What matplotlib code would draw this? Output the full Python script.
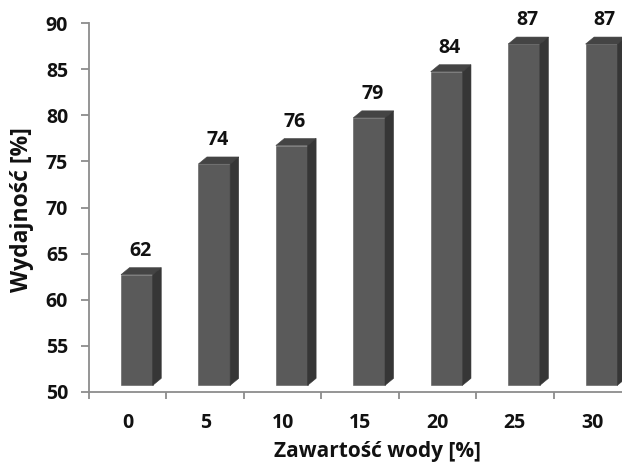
import matplotlib
matplotlib.use("Agg")
import matplotlib.pyplot as plt
from matplotlib.patches import Polygon

plt.rcParams['font.family'] = ['Open Sans', 'DejaVu Sans']

categories = ['0', '5', '10', '15', '20', '25', '30']
values = [62, 74, 76, 79, 84, 87, 87]

y_min, y_max = 50, 90

fig = plt.figure(figsize=(6.22, 4.66), dpi=100)
ax = fig.add_axes([0.1431, 0.1588, 0.8714, 0.7918])
ax.set_xlim(-0.5, len(categories) - 0.5)
ax.set_ylim(y_min, y_max)

# pseudo-3D geometry (data units)
front_off = -0.087   # front face left edge relative to category centre
front_w = 0.41
depth_x = 0.11
depth_y = 0.76
lift = 0.72          # front face raised above the floor

front_col = '#5a5a5a'
top_col = '#444444'
side_col = '#363636'

for i, v in enumerate(values):
    x0 = i + front_off
    x1 = x0 + front_w
    ax.bar(x0, v - y_min, bottom=y_min + lift, width=front_w, align='edge',
           color=front_col, edgecolor=front_col, linewidth=0.4, zorder=3)
    top = Polygon([(x0, v + lift), (x1, v + lift),
                   (x1 + depth_x, v + lift + depth_y), (x0 + depth_x, v + lift + depth_y)],
                  closed=True, facecolor=top_col, edgecolor=top_col, linewidth=0.4, zorder=3)
    side = Polygon([(x1, y_min + lift), (x1 + depth_x, y_min + lift + depth_y),
                    (x1 + depth_x, v + lift + depth_y), (x1, v + lift)],
                   closed=True, facecolor=side_col, edgecolor=side_col, linewidth=0.4, zorder=3)
    ax.add_patch(top)
    ax.add_patch(side)
    ax.annotate(str(v), xy=(i + 0.16, v), xytext=(0, 22), textcoords='offset points',
                ha='center', va='center', fontsize=14, fontweight='bold', color='#111111',
                annotation_clip=False)

for s in ['top', 'right']:
    ax.spines[s].set_visible(False)
for s in ['left', 'bottom']:
    ax.spines[s].set_color('#8c8c8c')
    ax.spines[s].set_linewidth(1.3)

ax.set_yticks(range(y_min, y_max + 1, 5))
ax.tick_params(axis='y', direction='out', length=6, width=1.3, color='#8c8c8c',
               pad=9, labelsize=14, labelcolor='#111111')
for lbl in ax.get_yticklabels():
    lbl.set_fontweight('bold')

ax.set_xticks(range(len(categories)))
ax.set_xticklabels(categories, fontweight='bold', fontsize=14, color='#111111')
ax.set_xticks([k - 0.5 for k in range(len(categories) + 1)], minor=True)
ax.tick_params(axis='x', which='major', length=0, pad=15)
ax.tick_params(axis='x', which='minor', direction='out', length=5, width=1.3, color='#8c8c8c')

fig.text(377 / 622, 1 - 452 / 466, 'Zawartość wody [%]', ha='center', va='center',
         fontsize=15, fontweight='bold', color='#111111')
fig.text(22 / 622, 1 - 210 / 466, 'Wydajność [%]', ha='center', va='center', rotation=90,
         fontsize=16.5, fontweight='bold', color='#111111')

fig.savefig('out.png', dpi=100)
